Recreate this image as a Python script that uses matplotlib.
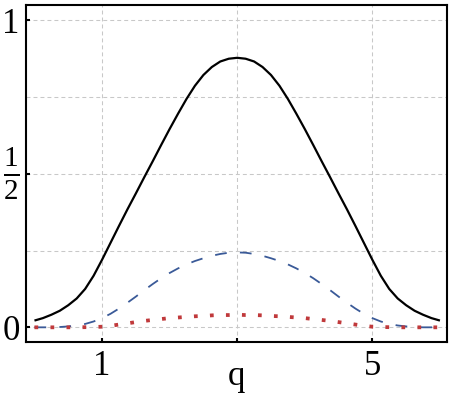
import matplotlib
matplotlib.use("Agg")
import matplotlib.pyplot as plt

# ---- data ----
q_vals = [0.0, 0.125, 0.25, 0.375, 0.5, 0.625, 0.75, 0.875, 1.0, 1.125, 1.25, 1.375,
          1.5, 1.625, 1.75, 1.875, 2.0, 2.125, 2.25, 2.375, 2.5, 2.625, 2.75, 2.875,
          3.0, 3.125, 3.25, 3.375, 3.5, 3.625, 3.75, 3.875, 4.0, 4.125, 4.25, 4.375,
          4.5, 4.625, 4.75, 4.875, 5.0, 5.125, 5.25, 5.375, 5.5, 5.625, 5.75, 5.875, 6.0]
solid_vals = [0.022, 0.030, 0.041, 0.054, 0.072, 0.094, 0.125, 0.168, 0.220, 0.275, 0.330, 0.384,
              0.436, 0.489, 0.541, 0.594, 0.646, 0.696, 0.744, 0.787, 0.822, 0.848, 0.866, 0.875,
              0.878, 0.875, 0.866, 0.848, 0.822, 0.787, 0.744, 0.696, 0.646, 0.594, 0.541, 0.489,
              0.436, 0.384, 0.330, 0.275, 0.220, 0.168, 0.125, 0.094, 0.072, 0.054, 0.041, 0.030, 0.022]
dashed_vals = [0.0, 0.0, 0.0, 0.001, 0.003, 0.006, 0.011, 0.019, 0.030, 0.044, 0.061, 0.080,
               0.100, 0.121, 0.141, 0.160, 0.177, 0.192, 0.205, 0.216, 0.225, 0.233, 0.239, 0.243,
               0.244, 0.243, 0.239, 0.233, 0.225, 0.216, 0.205, 0.192, 0.177, 0.160, 0.141, 0.121,
               0.100, 0.080, 0.061, 0.044, 0.030, 0.019, 0.011, 0.006, 0.003, 0.001, 0.0, 0.0, 0.0]
dotted_vals = [0.0, 0.0, 0.0, 0.0, 0.0, 0.0, 0.0005, 0.001, 0.002, 0.005, 0.009, 0.013,
               0.017, 0.021, 0.024, 0.027, 0.030, 0.032, 0.034, 0.036, 0.037, 0.039, 0.040, 0.040,
               0.041, 0.040, 0.040, 0.039, 0.037, 0.036, 0.034, 0.032, 0.030, 0.027, 0.024, 0.021,
               0.017, 0.013, 0.009, 0.005, 0.002, 0.001, 0.0005, 0.0, 0.0, 0.0, 0.0, 0.0, 0.0]
x_ticks = [1, 3, 5]
x_tick_labels = ["1", "", "5"]
y_ticks = [0, 0.5, 1]
y_tick_labels = ["0", r"$\frac{1}{2}$", "1"]
x_grid = [1, 3, 5]
y_grid = [0, 0.25, 0.5, 0.75, 1]
x_label = "q"

plt.rcParams["font.family"] = ["Liberation Serif", "DejaVu Serif"]
plt.rcParams["mathtext.fontset"] = "custom"
plt.rcParams["mathtext.rm"] = "Liberation Serif"
plt.rcParams["mathtext.it"] = "Liberation Serif:italic"
plt.rcParams["mathtext.default"] = "regular"

fig = plt.figure(figsize=(4.5, 3.97), dpi=100)
ax = fig.add_axes([0.0578, 0.138, 0.9356, 0.8494])

grid_kw = dict(color="#c8c8c8", lw=0.75, linestyle=(0, (3.8, 2.9)), zorder=0)
for gx in x_grid:
    ax.axvline(gx, **grid_kw)
for gy in y_grid:
    ax.axhline(gy, **grid_kw)

ax.plot(q_vals, solid_vals, color="black", lw=1.6, solid_capstyle="butt",
        solid_joinstyle="round", zorder=3)
ax.plot(q_vals, dashed_vals, color="#3a5a98", lw=1.3, linestyle=(0, (6.5, 7.3)),
        dash_capstyle="butt", zorder=4)
ax.plot(q_vals, dotted_vals, color="#c0393b", lw=2.7, linestyle=(0, (1.0, 3.27)),
        dash_capstyle="butt", zorder=5)

ax.set_xlim(-0.125, 6.105)
ax.set_ylim(-0.0485, 1.05)

ax.set_xticks(x_ticks)
ax.set_xticklabels(x_tick_labels)
ax.set_yticks(y_ticks)
ax.set_yticklabels(y_tick_labels)
ax.tick_params(axis="both", direction="in", length=3, width=1.5, labelsize=25,
               top=False, right=False)
ax.tick_params(axis="x", pad=5.5)
ax.tick_params(axis="y", pad=4.5)
half_label = ax.get_yticklabels()[1]
half_label.set_fontsize(30)
half_label.set_verticalalignment("center")
ax.set_xlabel(x_label, fontsize=25, labelpad=-16.5)

for s in ax.spines.values():
    s.set_linewidth(1.5)
    s.set_color("black")

fig.savefig("out.png", dpi=100)
